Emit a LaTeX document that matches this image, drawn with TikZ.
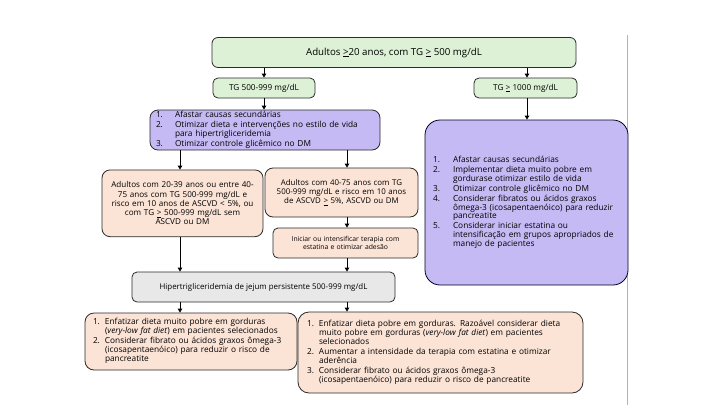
\documentclass[tikz,border=0pt]{standalone}
\usepackage{fontspec}
\setmainfont{Open Sans}
\usetikzlibrary{arrows.meta}
\definecolor{gfill}{HTML}{DCF1D5}
\definecolor{pfill}{HTML}{C5BAF3}
\definecolor{rfill}{HTML}{FBE3D6}
\definecolor{grfill}{HTML}{E8E8E8}
\definecolor{edge}{HTML}{2B2B2B}
\newcommand{\li}[3]{\noindent\makebox[#1][l]{#2}\begin{tabular}[t]{@{}l@{}}#3\end{tabular}\par}
\newcommand{\uge}{\underline{>}}
\tikzset{
 box/.style={draw=edge, line width=0.8pt, rounded corners=5pt, inner sep=0pt, align=center, font=\fontsize{8.3}{8.9}\selectfont},
 lbox/.style={box, align=left},
 arr/.style={-{Triangle[length=4pt,width=4.5pt]}, line width=0.9pt, draw=black},
}
\begin{document}
\begin{tikzpicture}[x=1pt,y=-1pt]
\useasboundingbox[fill=white] (0,0) rectangle (720,405);
\draw[gray!60, line width=0.8pt] (627,35) -- (627,405);

\node[box, fill=gfill, rounded corners=6pt, minimum width=364pt, minimum height=30pt, font=\fontsize{9.7}{11}\selectfont] (top) at (394,52.5) {Adultos \uge20 anos, com TG \uge\ 500 mg/dL};
\node[box, fill=gfill, minimum width=102pt, minimum height=20pt, font=\fontsize{8.2}{9}\selectfont] (tg5) at (264,88) {TG 500-999 mg/dL};
\node[box, fill=gfill, minimum width=103pt, minimum height=20pt, font=\fontsize{8.2}{9}\selectfont] (tg1) at (525.5,88) {TG \uge\ 1000 mg/dL};

\node[lbox, fill=pfill, rounded corners=8pt, minimum width=230pt, minimum height=40pt, text width=218pt, font=\fontsize{8.3}{8.7}\selectfont] (p1) at (265,130) {%
\li{19pt}{1.}{Afastar causas secundárias}%
\li{19pt}{2.}{Otimizar dieta e intervenções no estilo de vida\\para hipertrigliceridemia}%
\li{19pt}{3.}{Otimizar controle glicêmico no DM}\vspace{3.5pt}};

\node[lbox, fill=pfill, draw=black!85!blue, rounded corners=15pt, minimum width=203pt, minimum height=165pt, text width=187pt, font=\fontsize{8.3}{8.7}\selectfont] (pb) at (526.5,202.5) {%
\li{20pt}{1.}{Afastar causas secundárias}%
\li{20pt}{2.}{Implementar dieta muito pobre em\\gordurase otimizar estilo de vida}%
\li{20pt}{3.}{Otimizar controle glicêmico no DM}%
\li{20pt}{4.}{Considerar fibratos ou ácidos graxos\\ômega-3 (icosapentaenóico) para reduzir\\pancreatite}%
\li{20pt}{5.}{Considerar iniciar estatina ou\\intensificação em grupos apropriados de\\manejo de pacientes}\vspace{20pt}};

\node[box, fill=rfill, rounded corners=8pt, minimum width=161pt, minimum height=66.7pt, text width=158pt, font=\fontsize{8.1}{9.2}\selectfont] (lp) at (182.5,203.3) {Adultos com 20-39 anos ou entre 40-\\75 anos com TG 500-999 mg/dL e\\risco em 10 anos de ASCVD < 5\%, ou\\com TG \uge\ 500-999 mg/dL sem\\ASCVD ou DM\par\vspace{9pt}};
\node[box, fill=rfill, rounded corners=8pt, minimum width=153pt, minimum height=49pt, text width=150pt, font=\fontsize{7.9}{8.9}\selectfont] (mp) at (341.5,192.5) {Adultos com 40-75 anos com TG\\500-999 mg/dL e risco em 10 anos\\de ASCVD \uge\ 5\%, ASCVD ou DM\par\vspace{6pt}};
\node[box, fill=rfill, minimum width=145pt, minimum height=30pt, text width=140pt, font=\fontsize{6.8}{8.3}\selectfont] (st) at (345.5,243) {Iniciar ou intensificar terapia com\\estatina e otimizar adesão};
\node[box, fill=grfill, minimum width=263pt, minimum height=30pt, font=\fontsize{7.9}{10}\selectfont] (gr) at (263.5,287) {Hipertrigliceridemia de jejum persistente 500-999 mg/dL};

\node[lbox, fill=rfill, rounded corners=9pt, minimum width=212pt, minimum height=57pt, text width=196pt] (bl) at (191,341.5) {%
\li{12pt}{1.}{Enfatizar dieta muito pobre em gorduras\\(\textit{very-low fat diet}) em pacientes selecionados}%
\li{12pt}{2.}{Considerar fibrato ou ácidos graxos ômega-3\\(icosapentaenóico) para reduzir o risco de\\pancreatite}\vspace{11pt}};

\node[lbox, fill=rfill, rounded corners=11pt, minimum width=285pt, minimum height=81pt, text width=267pt] (br) at (440.5,352.5) {%
\li{12pt}{1.}{Enfatizar dieta pobre em gorduras. Razoável considerar dieta\\muito pobre em gorduras (\textit{very-low fat diet}) em pacientes\\selecionados}%
\li{12pt}{2.}{Aumentar a intensidade da terapia com estatina e otimizar\\aderência}%
\li{12pt}{3.}{Considerar fibrato ou ácidos graxos ômega-3\\(icosapentaenóico) para reduzir o risco de pancreatite}\vspace{17pt}};

\coordinate (cA) at (264,0);
\coordinate (cB) at (527,0);
\coordinate (cL) at (180,0);
\coordinate (cR) at (347,0);
\draw[arr] (cA |- top.south) -- (cA |- tg5.north);
\draw[arr] (cB |- top.south) -- (cB |- tg1.north);
\draw[arr] (cA |- tg5.south) -- (cA |- p1.north);
\draw[arr] (cB |- tg1.south) -- (cB |- pb.north);
\draw[arr] (cL |- p1.south) -- (cL |- lp.north);
\draw[arr] (cR |- p1.south) -- (cR |- mp.north);
\draw[arr] (cR |- mp.south) -- (cR |- st.north);
\draw[arr] (cR |- st.south) -- (cR |- gr.north);
\draw[arr] (cL |- lp.south) -- (cL |- gr.north);
\draw[arr] (cL |- gr.south) -- (cL |- bl.north);
\draw[arr] (cR |- gr.south) -- (cR |- br.north);
\end{tikzpicture}
\end{document}
